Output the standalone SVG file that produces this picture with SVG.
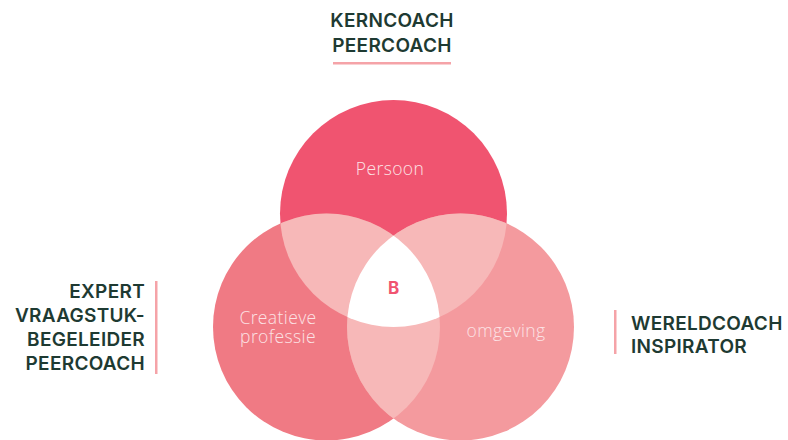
<svg xmlns="http://www.w3.org/2000/svg" width="788" height="440" viewBox="0 0 788 440">
<style>
.lbl{font-family:Inter,"Liberation Sans",sans-serif;font-weight:600;font-size:19px;fill:#1E3A32;letter-spacing:0.3px}
.ctx{font-family:"Open Sans",Lato,"Liberation Sans",sans-serif;font-weight:300;font-size:17.5px;fill:#FCE2E5;text-anchor:middle;letter-spacing:0.4px}
.bar{fill:#F5A3A8}
</style>
<defs>
<clipPath id="cT"><circle cx="393.5" cy="213.5" r="113.5"/></clipPath>
<clipPath id="cL"><circle cx="326.5" cy="327" r="113.5"/></clipPath>
</defs>
<rect width="788" height="440" fill="#ffffff"/>
<g id="circle-persoon">
<circle cx="393.5" cy="213.5" r="113.5" fill="#F05470"/>
<text class="ctx" x="390" y="175">Persoon</text>
</g>
<g id="circle-creatieve">
<circle cx="326.5" cy="327" r="113.5" fill="#F07A84"/>
</g>
<g id="circle-omgeving">
<circle cx="460.5" cy="327" r="113.5" fill="#F49A9E"/>
</g>
<g id="overlaps">
<g clip-path="url(#cT)"><circle cx="326.5" cy="327" r="113.5" fill="#F7B8B8"/><circle cx="460.5" cy="327" r="113.5" fill="#F7B8B8"/></g>
<g clip-path="url(#cL)"><circle cx="460.5" cy="327" r="113.5" fill="#F7B8B8"/></g>
<g clip-path="url(#cT)"><g clip-path="url(#cL)"><circle cx="460.5" cy="327" r="113.5" fill="#ffffff"/></g></g>
</g>
<g id="labels-in-circles">
<text class="ctx" x="278" y="324">Creatieve<tspan x="278" dy="19">professie</tspan></text>
<text class="ctx" x="506" y="337">omgeving</text>
</g>
<g id="center-b">
<text x="393.5" y="294" font-family="Inter,'Liberation Sans',sans-serif" font-weight="700" font-size="17" fill="#F05470" text-anchor="middle">B</text>
</g>
<g id="node-top">
<text class="lbl" x="392" y="27" text-anchor="middle">KERNCOACH</text>
<text class="lbl" x="392" y="52" text-anchor="middle">PEERCOACH</text>
<rect class="bar" x="333" y="62" width="118" height="2.5"/>
</g>
<g id="node-left">
<text class="lbl" x="145" y="298" text-anchor="end">EXPERT</text>
<text class="lbl" x="145" y="322" text-anchor="end">VRAAGSTUK-</text>
<text class="lbl" x="145" y="346" text-anchor="end">BEGELEIDER</text>
<text class="lbl" x="145" y="370" text-anchor="end">PEERCOACH</text>
<rect class="bar" x="155" y="281" width="2.5" height="93"/>
</g>
<g id="node-right">
<text class="lbl" x="631" y="330">WERELDCOACH</text>
<text class="lbl" x="631" y="353">INSPIRATOR</text>
<rect class="bar" x="614" y="310" width="2.5" height="44"/>
</g>
</svg>
